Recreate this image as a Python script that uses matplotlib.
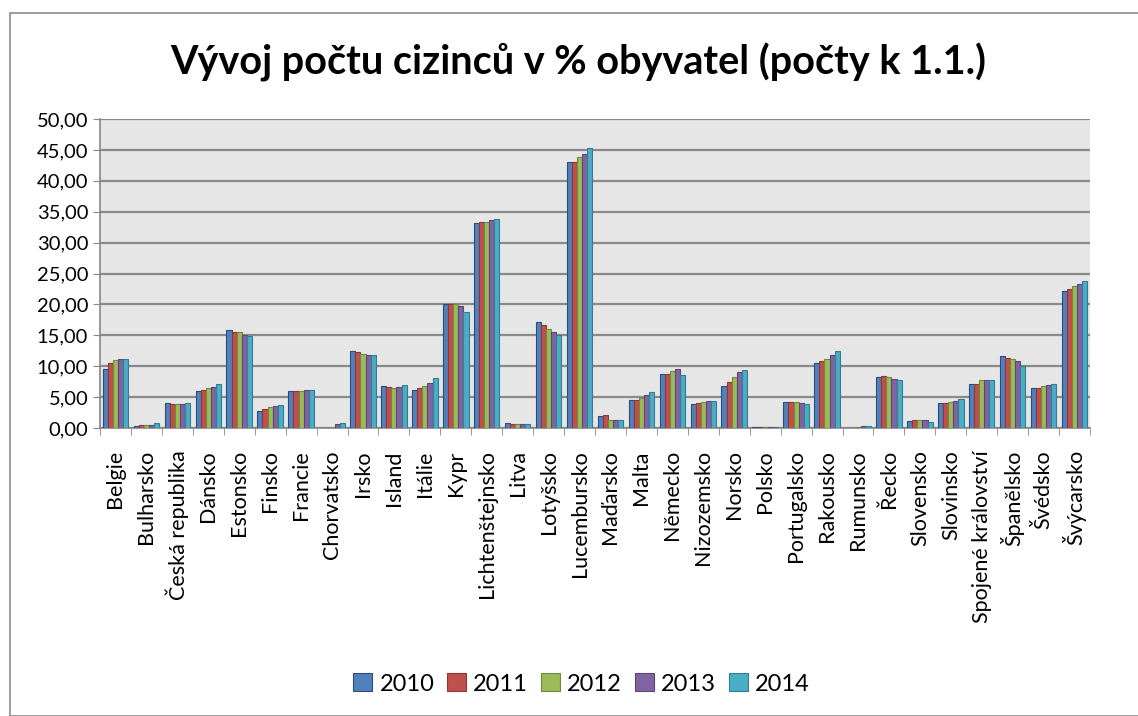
import matplotlib.pyplot as plt
import numpy as np
from matplotlib.ticker import FuncFormatter, MultipleLocator
from matplotlib.patches import Rectangle

plt.rcParams['font.family'] = ['Lato', 'DejaVu Sans']

countries = ["Belgie", "Bulharsko", "Česká republika", "Dánsko", "Estonsko", "Finsko",
             "Francie", "Chorvatsko", "Irsko", "Island", "Itálie", "Kypr",
             "Lichtenštejnsko", "Litva", "Lotyšsko", "Lucembursko", "Maďarsko", "Malta",
             "Německo", "Nizozemsko", "Norsko", "Polsko", "Portugalsko", "Rakousko",
             "Rumunsko", "Řecko", "Slovensko", "Slovinsko", "Spojené království",
             "Španělsko", "Švédsko", "Švýcarsko"]
years = ["2010", "2011", "2012", "2013", "2014"]

v2010 = [9.6, 0.4, 4.05, 5.95, 15.9, 2.8, 5.95, 0.0, 12.5, 6.75, 6.2, 20.0,
         33.2, 0.86, 17.1, 43.0, 2.0, 4.6, 8.75, 3.9, 6.75, 0.16, 4.25, 10.5,
         0.05, 8.3, 1.2, 4.0, 7.1, 11.7, 6.4, 22.1]
v2011 = [10.5, 0.5, 3.95, 6.2, 15.6, 3.0, 5.95, 0.0, 12.3, 6.65, 6.55, 20.0,
         33.3, 0.7, 16.6, 43.1, 2.1, 4.6, 8.75, 4.1, 7.45, 0.2, 4.2, 10.9,
         0.05, 8.4, 1.3, 4.0, 7.2, 11.35, 6.5, 22.5]
v2012 = [11.0, 0.5, 3.95, 6.4, 15.6, 3.35, 6.0, 0.0, 12.0, 6.5, 6.75, 20.0,
         33.4, 0.7, 16.1, 43.8, 1.35, 4.8, 9.25, 4.2, 8.2, 0.2, 4.2, 11.2,
         0.1, 8.3, 1.3, 4.2, 7.7, 11.1, 6.8, 22.9]
v2013 = [11.2, 0.55, 3.95, 6.6, 15.0, 3.55, 6.2, 0.6, 11.8, 6.65, 7.3, 19.7,
         33.6, 0.7, 15.55, 44.4, 1.35, 5.35, 9.6, 4.3, 9.1, 0.2, 4.0, 11.8,
         0.3, 8.0, 1.35, 4.4, 7.8, 10.8, 6.9, 23.3]
v2014 = [11.2, 0.75, 4.05, 7.1, 14.85, 3.7, 6.2, 0.75, 11.8, 6.95, 8.1, 18.75,
         33.8, 0.7, 15.1, 45.3, 1.35, 5.85, 8.6, 4.4, 9.4, 0.2, 3.85, 12.4,
         0.3, 7.8, 1.05, 4.7, 7.8, 10.1, 7.1, 23.8]
series = [v2010, v2011, v2012, v2013, v2014]

colors = ["#4F81BD", "#C0504D", "#9BBB59", "#8064A2", "#4BACC6"]
edges = ["#2C4D75", "#8C3836", "#71893F", "#5C4776", "#357D91"]

fig = plt.figure(figsize=(11.38, 7.16), dpi=100)
# outer chart border like the Excel chart area
fig.patches.append(Rectangle((10 / 1138, 0), 1.2, 1 - 13 / 716, transform=fig.transFigure,
                             fill=False, edgecolor="#8C8C8C", linewidth=1.2))

ax = fig.add_axes([100 / 1138, 1 - 428 / 716, 990 / 1138, 309 / 716])
ax.set_facecolor("#E6E6E6")

x = np.arange(len(countries))
w = 0.165
for i, (vals, yr) in enumerate(zip(series, years)):
    ax.bar(x + (i - 2) * w, vals, width=w, color=colors[i], edgecolor=edges[i],
           linewidth=0.8, label=yr, zorder=3)

ax.set_ylim(0, 50)
ax.set_xlim(-0.5, len(countries) - 0.5)
ax.yaxis.set_major_locator(MultipleLocator(5))
ax.yaxis.set_major_formatter(FuncFormatter(lambda v, p: f"{v:.2f}".replace(".", ",")))
ax.grid(axis="y", color="#8A8A8A", linewidth=1.6, zorder=1)
ax.set_axisbelow(True)

ax.set_xticks(x)
ax.set_xticklabels(countries, rotation=90, fontsize=15.5)
ax.set_xticks(np.arange(-0.5, len(countries), 1), minor=True)
ax.tick_params(axis="x", which="major", length=0, pad=16)
ax.tick_params(axis="x", which="minor", length=5, color="#868686")
ax.tick_params(axis="y", labelsize=14.5, length=5, color="#868686")

for s in ["top", "right"]:
    ax.spines[s].set_visible(False)
for s in ["left", "bottom"]:
    ax.spines[s].set_color("#868686")
    ax.spines[s].set_linewidth(1.2)

fig.text(0.508, 1 - 62 / 716, "Vývoj počtu cizinců v % obyvatel (počty k 1.1.)",
         ha="center", va="center", fontsize=28.5, fontweight="bold")

fig.legend(loc="center", bbox_to_anchor=(0.511, 1 - 684 / 716), ncol=5, frameon=False,
           fontsize=17, handlelength=0.8, handleheight=0.8, columnspacing=0.55,
           handletextpad=0.3)

fig.savefig("out.png", dpi=100)
